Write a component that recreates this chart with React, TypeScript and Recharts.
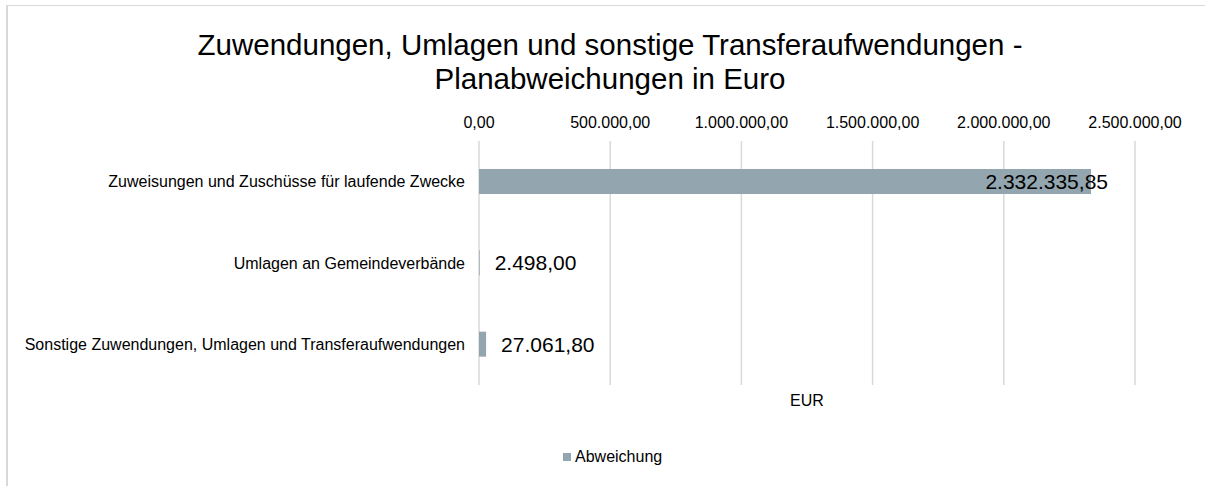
import React from "react";
import {
  BarChart,
  Bar,
  XAxis,
  YAxis,
  CartesianGrid,
  LabelList,
  Legend,
} from "recharts";

const categories: string[] = [
  "Zuweisungen und Zuschüsse für laufende Zwecke",
  "Umlagen an Gemeindeverbände",
  "Sonstige Zuwendungen, Umlagen und Transferaufwendungen",
];
const abweichung: number[] = [2332335.85, 2498.0, 27061.8];
const xTicks: number[] = [0, 500000, 1000000, 1500000, 2000000, 2500000];
const seriesName = "Abweichung";
const titleLines: string[] = [
  "Zuwendungen, Umlagen und sonstige Transferaufwendungen -",
  "Planabweichungen in Euro",
];
const axisTitle = "EUR";

const data = categories.map((c, i) => ({ name: c, value: abweichung[i] }));

const FONT = "'Liberation Sans', Arial, Helvetica, sans-serif";
const BAR_COLOR = "#93A5AE";
const GRID_COLOR = "#D9D9D9";
const W = 1205;
const H = 486;

function fmt(v: number): string {
  const neg = v < 0;
  const fixed = Math.abs(v).toFixed(2);
  const [ip, dp] = fixed.split(".");
  const withDots = ip.replace(/\B(?=(\d{3})+(?!\d))/g, ".");
  return (neg ? "-" : "") + withDots + "," + dp;
}

const BarValueLabel = (props: any) => {
  const { x, y, width, height, value } = props;
  const text = fmt(Number(value));
  const fs = 21;
  const estW = text.length * fs * 0.49;
  const end = Number(x) + Number(width);
  const overflow = end + 15 + estW > W - 10;
  const tx = overflow ? end + 17 : end + 15;
  return (
    <text
      x={tx}
      y={Number(y) + Number(height) / 2}
      dy="0.36em"
      textAnchor={overflow ? "end" : "start"}
      fontSize={fs}
      fill="#000"
      fontFamily={FONT}
    >
      {text}
    </text>
  );
};

const LegendContent = () => (
  <div
    style={{
      display: "flex",
      alignItems: "center",
      height: 20,
      fontFamily: FONT,
      fontSize: 16,
      color: "#000",
      whiteSpace: "nowrap",
    }}
  >
    <span
      style={{
        display: "inline-block",
        width: 8,
        height: 8,
        background: BAR_COLOR,
        marginRight: 4,
      }}
    />
    <span>{seriesName}</span>
  </div>
);

export default function App() {
  return (
    <div
      style={{
        position: "absolute",
        left: 0,
        top: 0,
        width: W,
        height: H,
        background: "#fff",
        fontFamily: FONT,
        overflow: "hidden",
      }}
    >
      <div
        style={{
          position: "absolute",
          left: 6,
          top: 5,
          width: W + 20,
          height: H + 20,
          borderTop: `1px solid ${GRID_COLOR}`,
          borderLeft: `2px solid ${GRID_COLOR}`,
          boxSizing: "border-box",
        }}
      />
      <div
        style={{
          position: "absolute",
          left: 0,
          top: 28,
          width: 1220,
          textAlign: "center",
          fontSize: 29.5,
          lineHeight: "34px",
          color: "#000",
        }}
      >
        {titleLines.map((t, i) => (
          <div key={i}>{t}</div>
        ))}
      </div>
      <div style={{ position: "absolute", left: 0, top: 0 }}>
        <BarChart
          width={W}
          height={H}
          data={data}
          layout="vertical"
          margin={{ top: 111, right: 70, bottom: 51, left: 0 }}
        >
          <CartesianGrid
            horizontal={false}
            vertical={true}
            stroke={GRID_COLOR}
            strokeWidth={1.5}
          />
          <XAxis
            type="number"
            orientation="top"
            domain={[0, 2500000]}
            ticks={xTicks}
            tickFormatter={fmt}
            axisLine={false}
            tickLine={false}
            tickSize={0}
            tickMargin={13}
            height={30}
            interval={0}
            tick={{ fill: "#000", fontSize: 16 }}
          />
          <XAxis
            xAxisId="eur"
            type="number"
            orientation="bottom"
            domain={[0, 2500000]}
            ticks={xTicks}
            tick={false}
            axisLine={false}
            tickLine={false}
            height={30}
            label={{
              value: axisTitle,
              position: "center",
              fill: "#000",
              fontSize: 16,
            }}
          />
          <YAxis
            type="category"
            dataKey="name"
            width={479}
            axisLine={false}
            tickLine={false}
            tickSize={0}
            tickMargin={14}
            interval={0}
            tick={{ fill: "#000", fontSize: 16 }}
          />
          <Legend
            verticalAlign="bottom"
            content={<LegendContent />}
            wrapperStyle={{ left: 563, top: 447, width: "auto" }}
          />
          <Bar
            dataKey="value"
            name={seriesName}
            fill={BAR_COLOR}
            barSize={25}
            isAnimationActive={false}
          >
            <LabelList dataKey="value" content={<BarValueLabel />} />
          </Bar>
        </BarChart>
      </div>
    </div>
  );
}
